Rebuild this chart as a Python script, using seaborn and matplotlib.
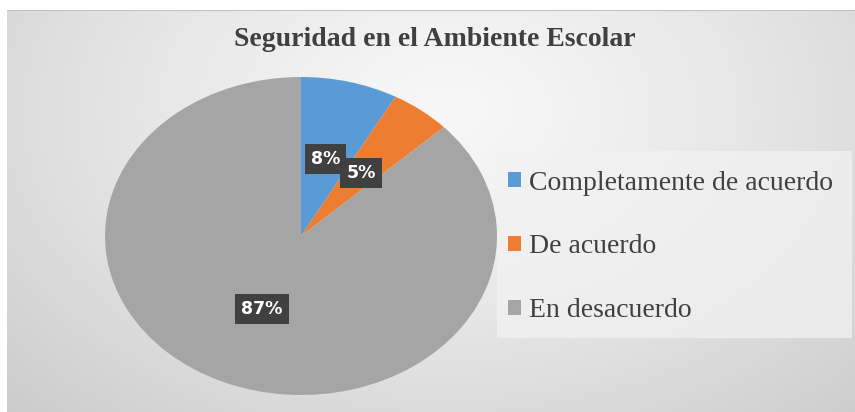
import matplotlib
matplotlib.use("Agg")
import matplotlib.pyplot as plt
import seaborn as sns
import numpy as np
from matplotlib.patches import Rectangle

# datos
categorias = ["Completamente de acuerdo", "De acuerdo", "En desacuerdo"]
porcentajes = [8, 5, 87]
colores = ["#5B9BD5", "#ED7D31", "#A5A5A5"]
titulo = "Seguridad en el Ambiente Escolar"

sns.set_theme(style="white")
plt.rcParams["font.family"] = ["DejaVu Sans"]

W, H = 855, 412
fig = plt.figure(figsize=(W / 100, H / 100), dpi=100, facecolor="white")

# fondo con degradado radial
bg = fig.add_axes([7 / W, 0, (W - 7) / W, (H - 10) / H])
bg.set_axis_off()
yy, xx = np.mgrid[0:402, 0:848]
d = np.sqrt(((xx - 440) / 620.0) ** 2 + ((yy - 100) / 420.0) ** 2)
d = np.clip(d, 0, 1)
g = 0.97 - 0.17 * d ** 1.3
bg.imshow(np.dstack([g, g, g]), aspect="auto", extent=(0, 1, 0, 1), origin="upper")
bg.set_xlim(0, 1)
bg.set_ylim(0, 1)
bg.axhline(1, color="#c4c4c4", lw=1.5)

# recuadro de la leyenda
fig.patches.append(Rectangle((497 / W, (H - 338) / H), (852 - 497) / W, (338 - 151) / H,
                             transform=fig.transFigure, facecolor="#f2f2f2", alpha=0.75,
                             edgecolor="none", zorder=1))

ax = fig.add_axes([105 / W, (H - 395) / H, 392 / W, 318 / H])
wedges, textos, autotextos = ax.pie(
    porcentajes, colors=colores, startangle=90, counterclock=False,
    autopct="%1.0f%%", pctdistance=0.5,
    wedgeprops=dict(linewidth=0),
    textprops=dict(color="white", fontsize=12.5, fontweight="bold"),
)
for t in autotextos:
    t.set_bbox(dict(boxstyle="square,pad=0.35", facecolor="#404040", edgecolor="none"))
ax.set_aspect("auto")
ax.set_xlim(-1, 1)
ax.set_ylim(-1, 1)
ax.set_axis_off()

fig.text(435 / W, 1 - 40 / H, titulo, ha="center", va="center", fontsize=20,
         fontweight="bold", color="#404040", family=["Liberation Serif", "DejaVu Serif"])

leg = fig.legend(wedges, categorias, loc="center left",
                 bbox_to_anchor=(497 / W, 1 - 247 / H), frameon=False,
                 prop=dict(family=["Liberation Serif", "DejaVu Serif"], size=20),
                 handlelength=0.45, handleheight=0.45, handletextpad=0.3,
                 labelspacing=1.4, borderaxespad=0)
for t in leg.get_texts():
    t.set_color("#404040")

fig.savefig("out.png", dpi=100, facecolor="white")
